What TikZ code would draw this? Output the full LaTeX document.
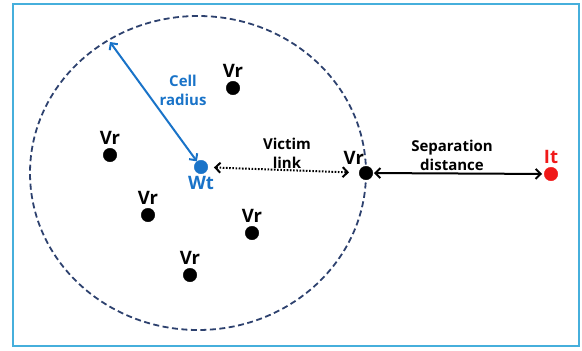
\documentclass[tikz,border=0pt]{standalone}
\usepackage{fontspec}
\setmainfont{Open Sans}
\usetikzlibrary{positioning,arrows,arrows.meta}
\definecolor{framecol}{RGB}{70,175,220}
\definecolor{cellcol}{RGB}{45,65,110}
\definecolor{wtblue}{RGB}{25,115,200}
\definecolor{itred}{RGB}{240,25,25}
\tikzstyle{dot} = [draw,circle,inner sep=0pt,minimum size=13.5pt,fill]
\tikzstyle{tag} = [font=\bfseries\fontsize{18.5}{18.5}\selectfont,inner sep=0pt]
\tikzstyle{note} = [font=\bfseries\fontsize{15}{19}\selectfont,align=center,inner sep=1pt]
\tikzstyle{link} = [line width=2pt,{Straight Barb[length=5pt,width=10pt]}-{Straight Barb[length=5pt,width=10pt]}]

\begin{document}
\begin{tikzpicture}[x=1pt,y=-1pt]
\useasboundingbox (0,0) rectangle (582,351);
\draw[framecol,line width=2.5pt] (13,4) rectangle (579,346);

% cell boundary
\draw[cellcol,line width=1.8pt,dash pattern=on 6pt off 3.5pt] (198,173) ellipse [x radius=168, y radius=157];

% transmitter and receivers
\node[dot,color=wtblue] (wt) at (201,167) {};
\node[dot] (vr1) at (233,88) {};
\node[dot] (vr2) at (110,155) {};
\node[dot] (vr3) at (148,215) {};
\node[dot] (vr4) at (252,233) {};
\node[dot] (vr5) at (190,275) {};
\node[dot] (vr6) at (366,173) {};
\node[dot,color=itred] (it) at (551,174) {};

\node[tag,text=wtblue,below=2pt of wt] (wtl) {Wt};
\node[tag,above=3pt of vr1] (vr1l) {Vr};
\node[tag,above=3pt of vr2] (vr2l) {Vr};
\node[tag,above=3pt of vr3] (vr3l) {Vr};
\node[tag,above=3pt of vr4] (vr4l) {Vr};
\node[tag,above=3pt of vr5] (vr5l) {Vr};
\node[tag,above left=3pt and -3pt of vr6] (vr6l) {Vr};
\node[tag,text=itred,above=3pt of it] (itl) {It};

% links
\coordinate (rim) at (110,42);
\draw[link,wtblue] (rim) -- (wt);
\draw[link,dash pattern=on 1.6pt off 1.6pt,shorten <=6pt,shorten >=10pt] (wt) -- (vr6);
\draw[link,shorten <=1pt,shorten >=2pt] (vr6) -- (it);

\node[note,text=wtblue] (cr) at (183,90) {Cell\\radius};
\node[note] (vl) at (287,153) {Victim\\link};
\node[note] (sd) at (452,155) {Separation\\distance};

\end{tikzpicture}
\end{document}
